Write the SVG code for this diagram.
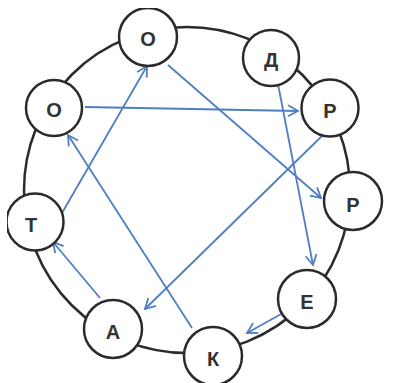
<svg xmlns="http://www.w3.org/2000/svg" width="405" height="383" viewBox="0 0 405 383">
<style>
.ring{fill:none;stroke:#2b2b2b;stroke-width:2.5}
.node circle{fill:#fff;stroke:#2b2b2b;stroke-width:2.5}
.node text{font-family:"Liberation Sans",Arial,sans-serif;font-weight:bold;font-size:20px;fill:#333;text-anchor:middle;dominant-baseline:central}
.edge{stroke:#4f7fc0;stroke-width:1.8;fill:none;marker-end:url(#arr)}
</style>
<defs>
<marker id="arr" viewBox="-12 -7 14 14" refX="0" refY="0" markerWidth="14" markerHeight="14" markerUnits="userSpaceOnUse" orient="auto">
<path d="M-10,-5.5 L0,0 L-10,5.5" fill="none" stroke="#4f7fc0" stroke-width="1.8"/>
</marker>
<clipPath id="frame"><rect x="7" y="8" width="398" height="375"/></clipPath>
</defs>
<rect width="405" height="383" fill="#fff"/>
<g clip-path="url(#frame)">
<circle class="ring" cx="187" cy="190" r="163"/>
<g id="connectors">
<line class="edge" x1="85" y1="107" x2="298" y2="111"/>
<line class="edge" x1="62" y1="213" x2="147" y2="66"/>
<line class="edge" x1="168" y1="65" x2="321" y2="198"/>
<line class="edge" x1="278" y1="84" x2="313" y2="265"/>
<line class="edge" x1="325" y1="133" x2="145" y2="309"/>
<line class="edge" x1="192" y1="328" x2="68" y2="135"/>
<line class="edge" x1="100" y1="298" x2="53" y2="242"/>
<line class="edge" x1="283" y1="313" x2="247" y2="333"/>
</g>
<g id="n-o-top" class="node"><circle cx="148" cy="37" r="29"/><text x="148" y="39">О</text></g>
<g id="n-d" class="node"><circle cx="271" cy="58" r="28"/><text x="271" y="60">Д</text></g>
<g id="n-r1" class="node"><circle cx="330" cy="108" r="28.5"/><text x="330" y="111">Р</text></g>
<g id="n-r2" class="node"><circle cx="353" cy="201" r="29"/><text x="353" y="205">Р</text></g>
<g id="n-e" class="node"><circle cx="307" cy="299" r="29"/><text x="307" y="302">Е</text></g>
<g id="n-k" class="node"><circle cx="213" cy="356" r="29"/><text x="213" y="359">К</text></g>
<g id="n-a" class="node"><circle cx="113" cy="329" r="29"/><text x="113" y="332">А</text></g>
<g id="n-t" class="node"><circle cx="35" cy="222" r="28.5"/><text x="31" y="225">Т</text></g>
<g id="n-o-left" class="node"><circle cx="54" cy="108" r="28"/><text x="54" y="110">О</text></g>
</g>
</svg>
